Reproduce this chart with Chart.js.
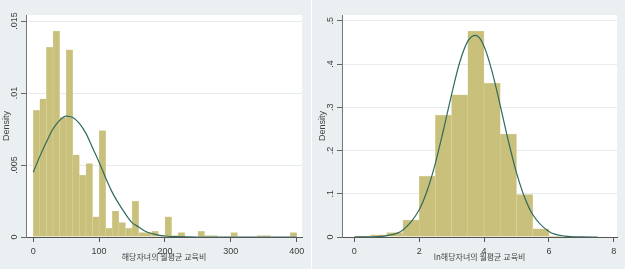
<!DOCTYPE html>
<html>
<head>
<meta charset="utf-8">
<script src="https://cdn.jsdelivr.net/npm/chart.js@4.4.1/dist/chart.umd.min.js"></script>
<style>
  html, body { margin: 0; padding: 0; background: #fff; }
  .panel { position: absolute; top: 0; }
  #left { left: 0; }
  #right { left: 312px; }
</style>
</head>
<body>
<div class="panel" id="left"><canvas id="leftChart" width="311" height="269"></canvas></div>
<div class="panel" id="right"><canvas id="rightChart" width="313" height="269"></canvas></div>
<script>
// left: monthly education spending, bins of 10 (bin midpoints)
const leftBins = [5, 15, 25, 35, 45, 55, 65, 75, 85, 95,
  105, 115, 125, 135, 145, 155, 165, 175, 185, 195,
  205, 215, 225, 235, 245, 255, 265, 275, 285, 295,
  305, 315, 325, 335, 345, 355, 365, 375, 385, 395];
const leftDensity = [0.0088, 0.0096, 0.0132, 0.0143, 0.0083, 0.0130, 0.0057, 0.0043, 0.0051, 0.0014,
  0.0074, 0.0006, 0.0018, 0.0010, 0.0006, 0.0025, 0.0003, 0.0003, 0.0004, 0.0001,
  0.0014, 0.0001, 0.0003, 0, 0, 0.0004, 0.0001, 0.0001, 0, 0,
  0.0003, 0, 0, 0, 0.0001, 0.0001, 0, 0, 0, 0.0003];
const leftCurveX = [0, 10, 20, 30, 40, 50, 60, 70, 80, 90, 100, 110, 120, 130, 140, 150,
  160, 170, 180, 190, 200, 220, 250, 300, 350, 400];
const leftCurveY = [0.0045, 0.0056, 0.0066, 0.0075, 0.0081, 0.0084, 0.0083, 0.0079, 0.0072, 0.0062,
  0.0052, 0.0041, 0.0031, 0.0023, 0.0016, 0.0010, 0.0007, 0.0004, 0.00024, 0.00013,
  0.00007, 0.00002, 0, 0, 0, 0];
const leftXTicks = [0, 100, 200, 300, 400];
const leftYTicks = [0, 0.005, 0.01, 0.015];

// right: log of the same spending, bins of 0.5
const rightBins = [0.25, 0.75, 1.25, 1.75, 2.25, 2.75, 3.25, 3.75, 4.25, 4.75, 5.25, 5.75, 6.25, 6.75, 7.25];
const rightDensity = [0.002, 0.005, 0.010, 0.039, 0.140, 0.282, 0.329, 0.476, 0.356, 0.238, 0.098, 0.019, 0.002, 0, 0];
const rightCurveX = [0, 0.5, 1, 1.5, 2, 2.25, 2.5, 2.75, 3, 3.25, 3.5, 3.75, 4, 4.25, 4.5, 4.75,
  5, 5.25, 5.5, 6, 6.5, 7, 7.5];
const rightCurveY = [0.00004, 0.0004, 0.003, 0.0164, 0.063, 0.108, 0.171, 0.248, 0.330, 0.404, 0.453, 0.466,
  0.441, 0.382, 0.304, 0.222, 0.149, 0.092, 0.052, 0.013, 0.0022, 0.0003, 0];
const rightXTicks = [0, 2, 4, 6, 8];
const rightYTicks = [0, 0.1, 0.2, 0.3, 0.4, 0.5];

const tickFont = { family: '"Liberation Sans", Arial, sans-serif', size: 9 };
const tickColor = '#3c3c3c';

function fmtY(v) {
  return v === 0 ? '0' : String(v).replace(/^0\./, '.');
}

// Stata draws the y labels turned sideways
const rotatedYTicks = {
  id: 'rotatedYTicks',
  afterDraw(chart) {
    const y = chart.scales.y;
    const ctx = chart.ctx;
    ctx.save();
    ctx.fillStyle = tickColor;
    ctx.font = '9px "Liberation Sans", Arial, sans-serif';
    ctx.textAlign = 'center';
    ctx.textBaseline = 'middle';
    y.ticks.forEach((t, i) => {
      ctx.save();
      ctx.translate(y.right - 11, y.getPixelForTick(i));
      ctx.rotate(-Math.PI / 2);
      ctx.fillText(fmtY(t.value), 0, 0);
      ctx.restore();
    });
    ctx.restore();
  }
};

const panelBg = {
  id: 'panelBg',
  beforeDraw(chart) {
    const { ctx, chartArea: a } = chart;
    ctx.save();
    ctx.fillStyle = '#eaf0f2';
    ctx.fillRect(0, 0, chart.width, chart.height);
    ctx.fillStyle = '#ffffff';
    ctx.fillRect(a.left, a.top, a.right - a.left, a.bottom - a.top);
    ctx.restore();
  }
};

function makeHist(id, o) {
  const bars = o.bins.map((b, i) => ({ x: b, y: o.density[i] }));
  const curve = o.curveX.map((x, i) => ({ x: x, y: o.curveY[i] }));
  return new Chart(document.getElementById(id), {
    type: 'bar',
    data: {
      datasets: [{
        type: 'line',
        data: curve,
        order: 0,
        borderColor: '#2f6b5e',
        borderWidth: 1.2,
        pointRadius: 0,
        cubicInterpolationMode: 'monotone',
        fill: false
      }, {
        type: 'bar',
        data: bars,
        order: 1,
        backgroundColor: '#c9c07b',
        borderColor: '#ddd7a6',
        borderWidth: { left: 0.5, right: 0.5, top: 0.5, bottom: 0 },
        barPercentage: 1,
        categoryPercentage: 1
      }]
    },
    options: {
      responsive: false,
      animation: false,
      layout: { padding: { left: 0, right: o.padRight, top: 15, bottom: 0 } },
      plugins: { legend: { display: false }, tooltip: { enabled: false } },
      scales: {
        x: {
          type: 'linear',
          min: o.xMin,
          max: o.xMax,
          offset: false,
          afterBuildTicks: s => { s.ticks = o.xTicks.map(v => ({ value: v })); },
          afterFit: s => { s.height = 32; },
          ticks: { font: tickFont, color: tickColor, padding: 4, maxRotation: 0, autoSkip: false },
          grid: { offset: false, drawOnChartArea: false, tickLength: 5, tickColor: '#555', color: '#555' },
          border: { color: '#555', width: 1 },
          title: {
            display: true,
            text: o.xTitle,
            color: '#444',
            font: { family: '"Noto Sans CJK KR", sans-serif', size: 8 },
            padding: { top: 0, bottom: 7 }
          }
        },
        y: {
          min: 0,
          max: o.yMax,
          afterBuildTicks: s => { s.ticks = o.yTicks.map(v => ({ value: v })); },
          afterFit: s => { s.width = o.yWidth; },
          ticks: { display: false },
          grid: { color: '#e6eced', tickLength: 5, tickColor: '#666' },
          border: { color: '#777', width: 1 },
          title: {
            display: true,
            text: 'Density',
            color: '#444',
            font: tickFont,
            padding: { top: o.yTitlePad, bottom: 0 }
          }
        }
      }
    },
    plugins: [panelBg, rotatedYTicks]
  });
}

makeHist('leftChart', {
  bins: leftBins, density: leftDensity, curveX: leftCurveX, curveY: leftCurveY,
  xTicks: leftXTicks, yTicks: leftYTicks,
  xMin: -11, xMax: 408, yMax: 0.01542,
  padRight: 9, yWidth: 26, yTitlePad: 1.5,
  xTitle: '해당자녀의 월평균 교육비'
});

makeHist('rightChart', {
  bins: rightBins, density: rightDensity, curveX: rightCurveX, curveY: rightCurveY,
  xTicks: rightXTicks, yTicks: rightYTicks,
  xMin: -0.38, xMax: 8.1, yMax: 0.5133,
  padRight: 8, yWidth: 30, yTitlePad: 5,
  xTitle: 'ln해당자녀의 월평균 교육비'
});
</script>
</body>
</html>
